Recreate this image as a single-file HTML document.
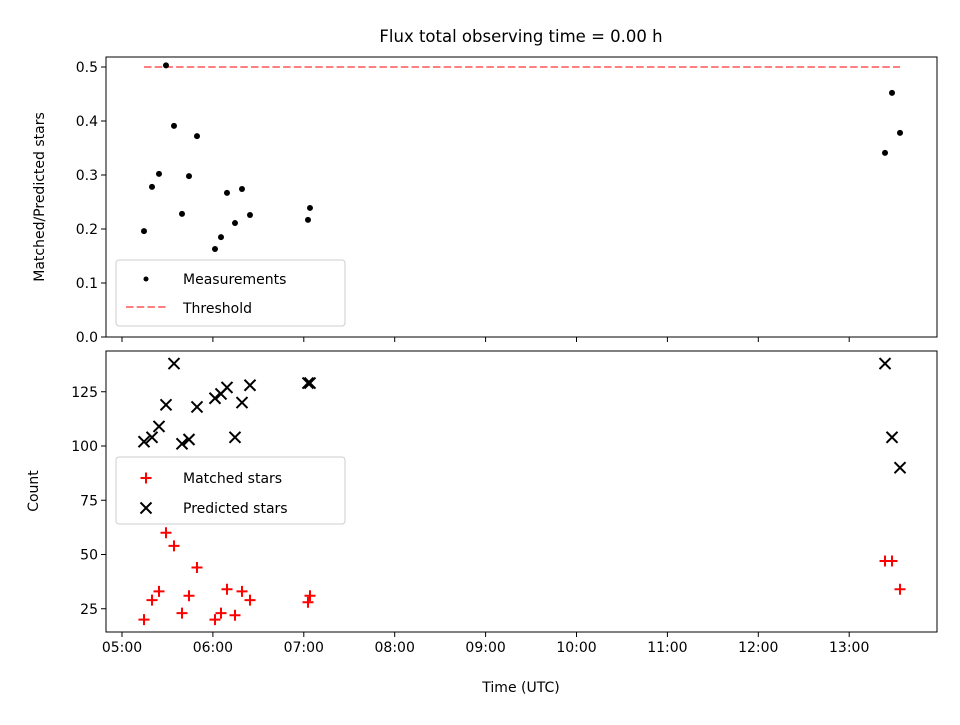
<!DOCTYPE html>
<html><head><meta charset="utf-8"><style>
body{margin:0;background:#fff}
svg text{font-family:"DejaVu Sans","Liberation Sans",sans-serif;fill:#000}
</style></head><body>
<svg id="fig" width="960" height="720" xmlns="http://www.w3.org/2000/svg">
<rect width="960" height="720" fill="#fff"/>
<g id="topAx"></g>
<g id="botAx"></g>
</svg>
<script>
const times=[5.242,5.330,5.407,5.484,5.572,5.660,5.737,5.825,6.023,6.089,6.155,6.243,6.320,6.408,7.046,7.068,13.394,13.471,13.559];
const ratios=[0.196,0.278,0.302,0.503,0.391,0.228,0.298,0.372,0.163,0.185,0.267,0.211,0.274,0.226,0.217,0.239,0.341,0.452,0.378];
const matched=[20,29,33,60,54,23,31,44,20,23,34,22,33,29,28,31,47,47,34];
const predicted=[102,104,109,119,138,101,103,118,122,124,127,104,120,128,129,129,138,104,90];
const threshold=0.5;
const ratioTicks=[0,0.1,0.2,0.3,0.4,0.5];
const ratioTickLabels=["0.0","0.1","0.2","0.3","0.4","0.5"];
const countTicks=[25,50,75,100,125];
const hourTicks=[5,6,7,8,9,10,11,12,13];
const hourTickLabels=["05:00","06:00","07:00","08:00","09:00","10:00","11:00","12:00","13:00"];

const NS="http://www.w3.org/2000/svg";
const L=106,R=937,T1=57,B1=337,T2=351,B2=632;
const x=t=>122+(t-5)*90.9;
const y1=v=>B1-v*540;
const y2=v=>446-(v-100)*2.17;
function mk(p,tag,at,txt){const e=document.createElementNS(NS,tag);for(const k in at)e.setAttribute(k,at[k]);if(txt!==undefined)e.textContent=txt;p.appendChild(e);return e;}
const topG=document.getElementById('topAx'),botG=document.getElementById('botAx');

let f=mk(topG,'rect',{x:L,y:T1,width:R-L,height:B1-T1,fill:'none',stroke:'#000','stroke-width':1});


f=mk(botG,'rect',{x:L,y:T2,width:R-L,height:B2-T2,fill:'none',stroke:'#000','stroke-width':1});



let t=mk(topG,'text',{x:521,y:42,'text-anchor':'middle','font-size':'16.5'},'Flux total observing time = 0.00 h');



ratioTicks.forEach((v,i)=>{
  mk(topG,'line',{x1:L-5,x2:L,y1:y1(v),y2:y1(v),stroke:'#000'});
  const e=mk(topG,'text',{x:L-8,y:y1(v)+5,'text-anchor':'end','font-size':'14'},ratioTickLabels[i]);
  
  
});
countTicks.forEach(v=>{
  mk(botG,'line',{x1:L-5,x2:L,y1:y2(v),y2:y2(v),stroke:'#000'});
  const e=mk(botG,'text',{x:L-8,y:y2(v)+5,'text-anchor':'end','font-size':'14'},String(v));
  
  
});
hourTicks.forEach((h,i)=>{
  mk(topG,'line',{x1:x(h),x2:x(h),y1:B1,y2:B1+5,stroke:'#000'});
  mk(botG,'line',{x1:x(h),x2:x(h),y1:B2,y2:B2+5,stroke:'#000'});
  const e=mk(botG,'text',{x:x(h),y:B2+20,'text-anchor':'middle','font-size':'14'},hourTickLabels[i]);
  
  
});
t=mk(botG,'text',{x:521,y:692,'text-anchor':'middle','font-size':'14'},'Time (UTC)');


t=mk(topG,'text',{x:44,y:197,'text-anchor':'middle','font-size':'14',transform:'rotate(-90 44 197)'},'Matched/Predicted stars');


t=mk(botG,'text',{x:38,y:491,'text-anchor':'middle','font-size':'14',transform:'rotate(-90 38 491)'},'Count');



let th=mk(topG,'line',{x1:x(times[0]),x2:x(times[times.length-1]),y1:y1(threshold),y2:y1(threshold),stroke:'#ff0000','stroke-opacity':0.5,'stroke-width':2,'stroke-dasharray':'7.5,3.2'});



ratios.forEach((v,i)=>{
  const c=mk(topG,'circle',{cx:x(times[i]),cy:y1(v),r:3,fill:'#000'});
  
  
});
function cross(p,cx,cy,col,rot){const h=5.5;return mk(p,'path',{d:rot?`M${cx-h} ${cy-h}L${cx+h} ${cy+h}M${cx-h} ${cy+h}L${cx+h} ${cy-h}`:`M${cx-h} ${cy}L${cx+h} ${cy}M${cx} ${cy-h}L${cx} ${cy+h}`,stroke:col,'stroke-width':2,fill:'none'});}
predicted.forEach((v,i)=>{const g=cross(botG,x(times[i]),y2(v),'#000',true);
  
  });
matched.forEach((v,i)=>{const g=cross(botG,x(times[i]),y2(v),'#ff0000',false);
  
  });

let lg=mk(topG,'g',{});


mk(lg,'rect',{x:116,y:260,width:229,height:66,rx:3,fill:'#fff','fill-opacity':0.8,stroke:'#ccc'});
mk(lg,'circle',{cx:146,cy:279,r:2.5,fill:'#000'});
mk(lg,'text',{x:183,y:284,'font-size':'14'},'Measurements');
mk(lg,'line',{x1:126,x2:166,y1:307,y2:307,stroke:'#ff0000','stroke-opacity':0.5,'stroke-width':2,'stroke-dasharray':'7.5,3.2'});
mk(lg,'text',{x:183,y:313,'font-size':'14'},'Threshold');
lg=mk(botG,'g',{});


mk(lg,'rect',{x:116,y:457,width:229,height:67,rx:3,fill:'#fff','fill-opacity':0.8,stroke:'#ccc'});
cross(lg,146,478,'#ff0000',false);
mk(lg,'text',{x:183,y:483,'font-size':'14'},'Matched stars');
cross(lg,146,508,'#000',true);
mk(lg,'text',{x:183,y:513,'font-size':'14'},'Predicted stars');
</script>
</body></html>
